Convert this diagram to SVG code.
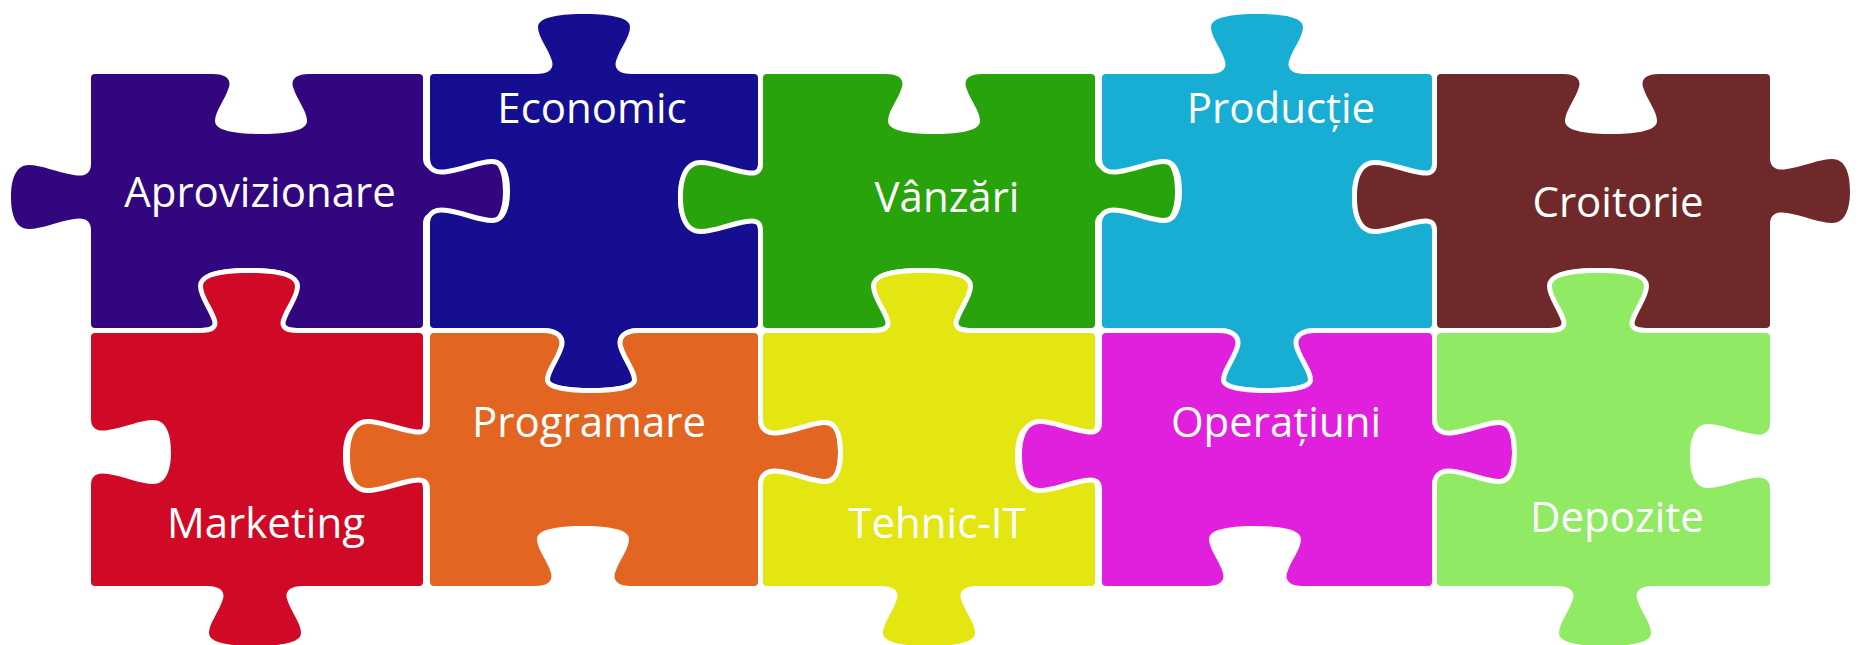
<svg xmlns="http://www.w3.org/2000/svg" width="1860" height="645" viewBox="0 0 1860 645">
<style>
.p{stroke:#fff;stroke-width:10;stroke-linejoin:round;paint-order:stroke}
.t{font-family:"Open Sans","Noto Sans",sans-serif;font-size:42px;fill:#fff;text-anchor:middle}
</style>
<rect width="1860" height="645" fill="#fff"/>
<g id="aprovizionare">
<path class="p" fill="#32067F" d="M95,74 L213,74 c 14,0 18,6 16,13 c -4,13 -14,24 -14,34 c 0,11 26,13 46,13 c 20,0 46,-2 46,-13 c 0,-10 -10,-21 -14,-34 c -2,-7 2,-13 16,-13 L419,74 Q423,74 423,78 L423,158 c 0,10 7,13 17,11 c 18,-3 33,-10 45,-10 c 15,0 18,18 18,32 c 0,14 -3,32 -18,32 c -12,0 -27,-7 -45,-10 c -10,-2 -17,1 -17,11 L423,324 Q423,328 419,328 L297,328 c -14,0 -18,-6 -16,-13 c 4,-13 14,-24 14,-34 c 0,-11 -26,-13 -46,-13 c -20,0 -46,2 -46,13 c 0,10 10,21 14,34 c 2,7 -2,13 -16,13 L95,328 Q91,328 91,324 L91,230 c 0,-10 -7,-13 -17,-11 c -18,3 -33,10 -45,10 c -15,0 -18,-18 -18,-32 c 0,-14 3,-32 18,-32 c 12,0 27,7 45,10 c 10,2 17,-1 17,-11 L91,78 Q91,74 95,74Z"/>
<text class="t" x="260" y="207">Aprovizionare</text>
</g>
<g id="economic">
<path class="p" fill="#160E91" d="M434,74 L536,74 c 14,0 18,-6 16,-13 c -4,-13 -14,-24 -14,-34 c 0,-11 26,-13 46,-13 c 20,0 46,2 46,13 c 0,10 -10,21 -14,34 c -2,7 2,13 16,13 L754,74 Q758,74 758,78 L758,164 c 0,10 -7,13 -17,11 c -18,-3 -33,-10 -45,-10 c -15,0 -18,18 -18,32 c 0,14 3,32 18,32 c 12,0 27,-7 45,-10 c 10,-2 17,1 17,11 L758,324 Q758,328 754,328 L639,328 c -14,0 -18,6 -16,13 c 4,13 14,24 14,34 c 0,11 -26,13 -46,13 c -20,0 -46,-2 -46,-13 c 0,-10 10,-21 14,-34 c 2,-7 -2,-13 -16,-13 L434,328 Q430,328 430,324 L430,224 c 0,-10 7,-13 17,-11 c 18,3 33,10 45,10 c 15,0 18,-18 18,-32 c 0,-14 -3,-32 -18,-32 c -12,0 -27,7 -45,10 c -10,2 -17,-1 -17,-11 L430,78 Q430,74 434,74Z"/>
<text class="t" x="592" y="123">Economic</text>
</g>
<g id="vanzari">
<path class="p" fill="#29A30C" d="M767,74 L886,74 c 14,0 18,6 16,13 c -4,13 -14,24 -14,34 c 0,11 26,13 46,13 c 20,0 46,-2 46,-13 c 0,-10 -10,-21 -14,-34 c -2,-7 2,-13 16,-13 L1091,74 Q1095,74 1095,78 L1095,158 c 0,10 7,13 17,11 c 18,-3 33,-10 45,-10 c 15,0 18,18 18,32 c 0,14 -3,32 -18,32 c -12,0 -27,-7 -45,-10 c -10,-2 -17,1 -17,11 L1095,324 Q1095,328 1091,328 L970,328 c -14,0 -18,-6 -16,-13 c 4,-13 14,-24 14,-34 c 0,-11 -26,-13 -46,-13 c -20,0 -46,2 -46,13 c 0,10 10,21 14,34 c 2,7 -2,13 -16,13 L767,328 Q763,328 763,324 L763,230 c 0,-10 -7,-13 -17,-11 c -18,3 -33,10 -45,10 c -15,0 -18,-18 -18,-32 c 0,-14 3,-32 18,-32 c 12,0 27,7 45,10 c 10,2 17,-1 17,-11 L763,78 Q763,74 767,74Z"/>
<text class="t" x="947" y="212">Vânzări</text>
</g>
<g id="productie">
<path class="p" fill="#18AED4" d="M1106,74 L1209,74 c 14,0 18,-6 16,-13 c -4,-13 -14,-24 -14,-34 c 0,-11 26,-13 46,-13 c 20,0 46,2 46,13 c 0,10 -10,21 -14,34 c -2,7 2,13 16,13 L1428,74 Q1432,74 1432,78 L1432,164 c 0,10 -7,13 -17,11 c -18,-3 -33,-10 -45,-10 c -15,0 -18,18 -18,32 c 0,14 3,32 18,32 c 12,0 27,-7 45,-10 c 10,-2 17,1 17,11 L1432,324 Q1432,328 1428,328 L1315,328 c -14,0 -18,6 -16,13 c 4,13 14,24 14,34 c 0,11 -26,13 -46,13 c -20,0 -46,-2 -46,-13 c 0,-10 10,-21 14,-34 c 2,-7 -2,-13 -16,-13 L1106,328 Q1102,328 1102,324 L1102,224 c 0,-10 7,-13 17,-11 c 18,3 33,10 45,10 c 15,0 18,-18 18,-32 c 0,-14 -3,-32 -18,-32 c -12,0 -27,7 -45,10 c -10,2 -17,-1 -17,-11 L1102,78 Q1102,74 1106,74Z"/>
<text class="t" x="1281" y="123">Producție</text>
</g>
<g id="croitorie">
<path class="p" fill="#70292B" d="M1441,74 L1563,74 c 14,0 18,6 16,13 c -4,13 -14,24 -14,34 c 0,11 26,13 46,13 c 20,0 46,-2 46,-13 c 0,-10 -10,-21 -14,-34 c -2,-7 2,-13 16,-13 L1766,74 Q1770,74 1770,78 L1770,158 c 0,10 7,13 17,11 c 18,-3 33,-10 45,-10 c 15,0 18,18 18,32 c 0,14 -3,32 -18,32 c -12,0 -27,-7 -45,-10 c -10,-2 -17,1 -17,11 L1770,324 Q1770,328 1766,328 L1646,328 c -14,0 -18,-6 -16,-13 c 4,-13 14,-24 14,-34 c 0,-11 -26,-13 -46,-13 c -20,0 -46,2 -46,13 c 0,10 10,21 14,34 c 2,7 -2,13 -16,13 L1441,328 Q1437,328 1437,324 L1437,230 c 0,-10 -7,-13 -17,-11 c -18,3 -33,10 -45,10 c -15,0 -18,-18 -18,-32 c 0,-14 3,-32 18,-32 c 12,0 27,7 45,10 c 10,2 17,-1 17,-11 L1437,78 Q1437,74 1441,74Z"/>
<text class="t" x="1618" y="217">Croitorie</text>
</g>
<g id="marketing">
<path class="p" fill="#D00A26" d="M95,333 L201,333 c 14,0 18,-6 16,-13 c -4,-13 -14,-24 -14,-34 c 0,-11 26,-13 46,-13 c 20,0 46,2 46,13 c 0,10 -10,21 -14,34 c -2,7 2,13 16,13 L419,333 Q423,333 423,337 L423,423 c 0,10 -7,13 -17,11 c -18,-3 -33,-10 -45,-10 c -15,0 -18,18 -18,32 c 0,14 3,32 18,32 c 12,0 27,-7 45,-10 c 10,-2 17,1 17,11 L423,582 Q423,586 419,586 L303,586 c -14,0 -18,6 -16,13 c 4,13 14,24 14,34 c 0,11 -26,13 -46,13 c -20,0 -46,-2 -46,-13 c 0,-10 10,-21 14,-34 c 2,-7 -2,-13 -16,-13 L95,586 Q91,586 91,582 L91,485 c 0,-10 7,-13 17,-11 c 18,3 33,10 45,10 c 15,0 18,-18 18,-32 c 0,-14 -3,-32 -18,-32 c -12,0 -27,7 -45,10 c -10,2 -17,-1 -17,-11 L91,337 Q91,333 95,333Z"/>
<text class="t" x="266" y="538">Marketing</text>
</g>
<g id="programare">
<path class="p" fill="#E26522" d="M434,333 L543,333 c 14,0 18,6 16,13 c -4,13 -14,24 -14,34 c 0,11 26,13 46,13 c 20,0 46,-2 46,-13 c 0,-10 -10,-21 -14,-34 c -2,-7 2,-13 16,-13 L754,333 Q758,333 758,337 L758,419 c 0,10 7,13 17,11 c 18,-3 33,-10 45,-10 c 15,0 18,18 18,32 c 0,14 -3,32 -18,32 c -12,0 -27,-7 -45,-10 c -10,-2 -17,1 -17,11 L758,582 Q758,586 754,586 L631,586 c -14,0 -18,-6 -16,-13 c 4,-13 14,-24 14,-34 c 0,-11 -26,-13 -46,-13 c -20,0 -46,2 -46,13 c 0,10 10,21 14,34 c 2,7 -2,13 -16,13 L434,586 Q430,586 430,582 L430,489 c 0,-10 -7,-13 -17,-11 c -18,3 -33,10 -45,10 c -15,0 -18,-18 -18,-32 c 0,-14 3,-32 18,-32 c 12,0 27,7 45,10 c 10,2 17,-1 17,-11 L430,337 Q430,333 434,333Z"/>
<text class="t" x="589" y="437">Programare</text>
</g>
<g id="tehnic-it">
<path class="p" fill="#E4E611" d="M767,333 L874,333 c 14,0 18,-6 16,-13 c -4,-13 -14,-24 -14,-34 c 0,-11 26,-13 46,-13 c 20,0 46,2 46,13 c 0,10 -10,21 -14,34 c -2,7 2,13 16,13 L1091,333 Q1095,333 1095,337 L1095,423 c 0,10 -7,13 -17,11 c -18,-3 -33,-10 -45,-10 c -15,0 -18,18 -18,32 c 0,14 3,32 18,32 c 12,0 27,-7 45,-10 c 10,-2 17,1 17,11 L1095,582 Q1095,586 1091,586 L977,586 c -14,0 -18,6 -16,13 c 4,13 14,24 14,34 c 0,11 -26,13 -46,13 c -20,0 -46,-2 -46,-13 c 0,-10 10,-21 14,-34 c 2,-7 -2,-13 -16,-13 L767,586 Q763,586 763,582 L763,485 c 0,-10 7,-13 17,-11 c 18,3 33,10 45,10 c 15,0 18,-18 18,-32 c 0,-14 -3,-32 -18,-32 c -12,0 -27,7 -45,10 c -10,2 -17,-1 -17,-11 L763,337 Q763,333 767,333Z"/>
<text class="t" x="937" y="538">Tehnic-IT</text>
</g>
<g id="operatiuni">
<path class="p" fill="#E020DD" d="M1106,333 L1219,333 c 14,0 18,6 16,13 c -4,13 -14,24 -14,34 c 0,11 26,13 46,13 c 20,0 46,-2 46,-13 c 0,-10 -10,-21 -14,-34 c -2,-7 2,-13 16,-13 L1428,333 Q1432,333 1432,337 L1432,419 c 0,10 7,13 17,11 c 18,-3 33,-10 45,-10 c 15,0 18,18 18,32 c 0,14 -3,32 -18,32 c -12,0 -27,-7 -45,-10 c -10,-2 -17,1 -17,11 L1432,582 Q1432,586 1428,586 L1303,586 c -14,0 -18,-6 -16,-13 c 4,-13 14,-24 14,-34 c 0,-11 -26,-13 -46,-13 c -20,0 -46,2 -46,13 c 0,10 10,21 14,34 c 2,7 -2,13 -16,13 L1106,586 Q1102,586 1102,582 L1102,489 c 0,-10 -7,-13 -17,-11 c -18,3 -33,10 -45,10 c -15,0 -18,-18 -18,-32 c 0,-14 3,-32 18,-32 c 12,0 27,7 45,10 c 10,2 17,-1 17,-11 L1102,337 Q1102,333 1106,333Z"/>
<text class="t" x="1276" y="437">Operațiuni</text>
</g>
<g id="depozite">
<path class="p" fill="#90EA64" d="M1441,333 L1550,333 c 14,0 18,-6 16,-13 c -4,-13 -14,-24 -14,-34 c 0,-11 26,-13 46,-13 c 20,0 46,2 46,13 c 0,10 -10,21 -14,34 c -2,7 2,13 16,13 L1766,333 Q1770,333 1770,337 L1770,423 c 0,10 -7,13 -17,11 c -18,-3 -33,-10 -45,-10 c -15,0 -18,18 -18,32 c 0,14 3,32 18,32 c 12,0 27,-7 45,-10 c 10,-2 17,1 17,11 L1770,582 Q1770,586 1766,586 L1653,586 c -14,0 -18,6 -16,13 c 4,13 14,24 14,34 c 0,11 -26,13 -46,13 c -20,0 -46,-2 -46,-13 c 0,-10 10,-21 14,-34 c 2,-7 -2,-13 -16,-13 L1441,586 Q1437,586 1437,582 L1437,485 c 0,-10 7,-13 17,-11 c 18,3 33,10 45,10 c 15,0 18,-18 18,-32 c 0,-14 -3,-32 -18,-32 c -12,0 -27,7 -45,10 c -10,2 -17,-1 -17,-11 L1437,337 Q1437,333 1441,333Z"/>
<text class="t" x="1617" y="532">Depozite</text>
</g>
<g id="connectors"/>
</svg>
